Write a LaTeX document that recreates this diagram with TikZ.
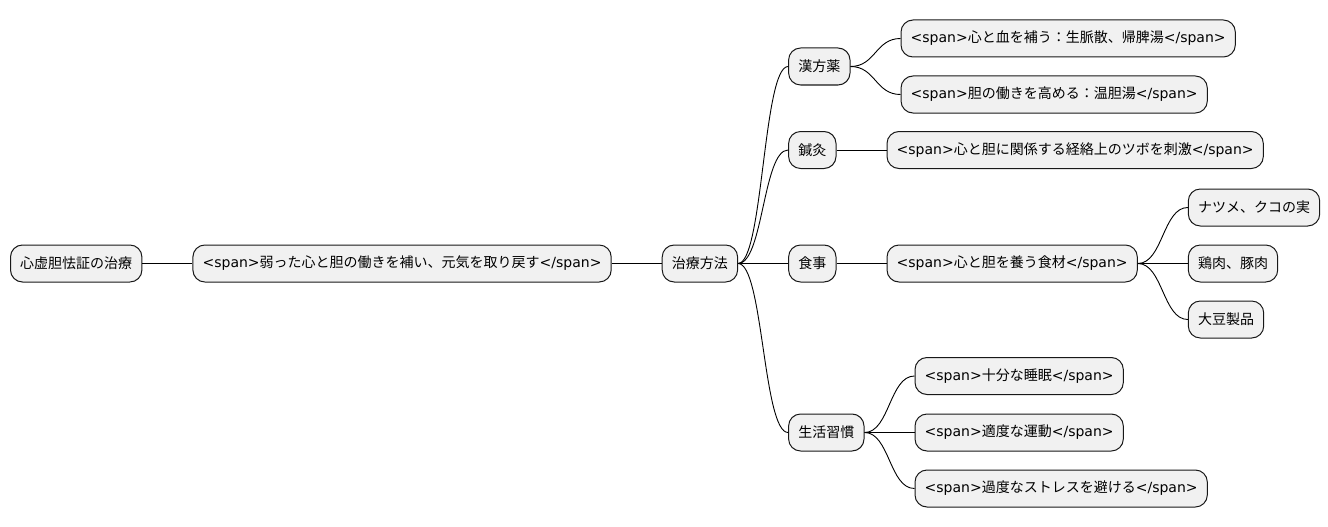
\documentclass[tikz,border=0pt]{standalone}
\usepackage{fontspec}
\setmainfont{DejaVu Sans}
\newfontfamily\jp{Noto Sans CJK JP}
\usetikzlibrary{positioning}
\definecolor{boxfill}{HTML}{F1F1F1}
\definecolor{boxline}{HTML}{181818}
\newcommand{\mmlink}[2]{\draw[edge] (#1.east) .. controls ([xshift=25pt]#1.east) and ([xshift=-25pt]#2.west) .. (#2.west);}

\begin{document}
\begin{tikzpicture}
            \tikzstyle{topic}=[draw=boxline,fill=boxfill,line width=1pt,rounded corners=12pt,inner xsep=9.7pt,minimum height=37pt,font=\fontsize{14pt}{17pt}\selectfont]
            \tikzstyle{edge}=[line width=0.9pt,black]
            \useasboundingbox (0,0) rectangle (1328pt,-527pt);

            \node[topic,anchor=west] (root) at (10pt,-263.5pt) {\jp 心虚胆怯証の治療};
            \node[topic] (goal) [right=50pt of root] {<span>{\jp 弱った心と胆の働きを補い、元気を取り戻す}</span>};
            \node[topic] (method) [right=50pt of goal] {\jp 治療方法};

            % methods
            \node[topic] (kampo) [right=50pt of method, yshift=197pt] {\jp 漢方薬};
            \node[topic] (acu) [right=50pt of method, yshift=113.5pt] {\jp 鍼灸};
            \node[topic] (diet) [right=50pt of method] {\jp 食事};
            \node[topic] (life) [right=50pt of method, yshift=-169pt] {\jp 生活習慣};

            % leaves
            \node[topic] (kampoA) [right=50pt of kampo, yshift=28pt] {<span>{\jp 心と血を補う：生脈散、帰脾湯}</span>};
            \node[topic] (kampoB) [right=50pt of kampo, yshift=-28pt] {<span>{\jp 胆の働きを高める：温胆湯}</span>};
            \node[topic] (acuA) [right=50pt of acu] {<span>{\jp 心と胆に関係する経絡上のツボを刺激}</span>};
            \node[topic] (food) [right=50pt of diet] {<span>{\jp 心と胆を養う食材}</span>};
            \node[topic] (foodA) [right=50pt of food, yshift=56pt] {\jp ナツメ、クコの実};
            \node[topic] (foodB) [right=50pt of food] {\jp 鶏肉、豚肉};
            \node[topic] (foodC) [right=50pt of food, yshift=-56pt] {\jp 大豆製品};
            \node[topic] (lifeA) [right=50pt of life, yshift=56.5pt] {<span>{\jp 十分な睡眠}</span>};
            \node[topic] (lifeB) [right=50pt of life] {<span>{\jp 適度な運動}</span>};
            \node[topic] (lifeC) [right=50pt of life, yshift=-56pt] {<span>{\jp 過度なストレスを避ける}</span>};

            \mmlink{root}{goal}
            \mmlink{goal}{method}
            \mmlink{method}{kampo}
            \mmlink{method}{acu}
            \mmlink{method}{diet}
            \mmlink{method}{life}
            \mmlink{kampo}{kampoA}
            \mmlink{kampo}{kampoB}
            \mmlink{acu}{acuA}
            \mmlink{diet}{food}
            \mmlink{food}{foodA}
            \mmlink{food}{foodB}
            \mmlink{food}{foodC}
            \mmlink{life}{lifeA}
            \mmlink{life}{lifeB}
            \mmlink{life}{lifeC}
        \end{tikzpicture}
\end{document}
